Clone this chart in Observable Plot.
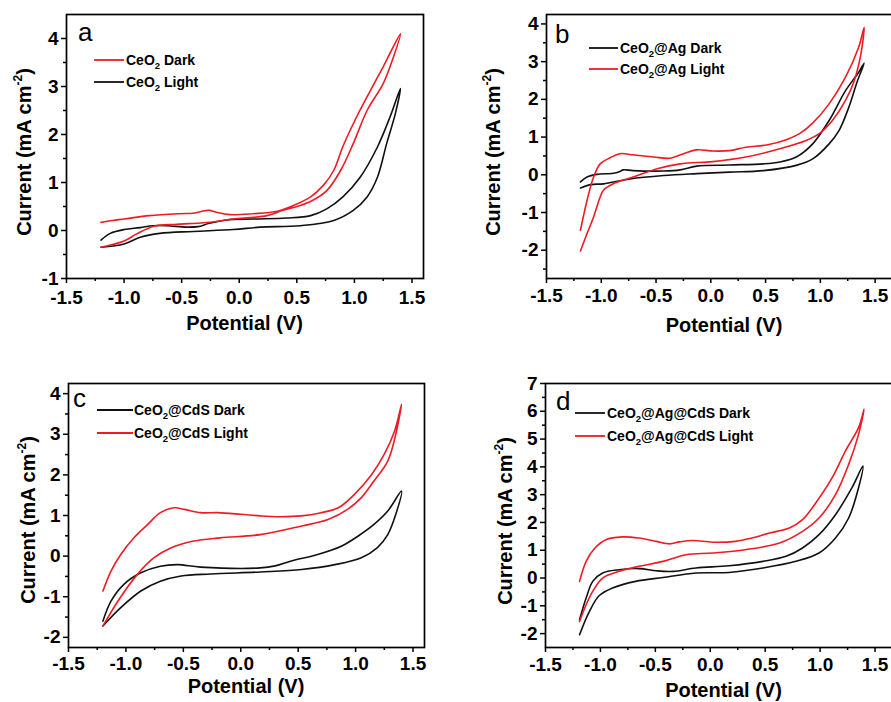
<!DOCTYPE html>
<html><head><meta charset="utf-8">
<script src="https://cdn.jsdelivr.net/npm/d3@7"></script>
<script src="https://cdn.jsdelivr.net/npm/@observablehq/plot@0.6"></script>
<style>
html,body{margin:0;padding:0;background:#fff;overflow:hidden;}
#wrap{position:relative;width:891px;height:702px;overflow:hidden;}
.panel{position:absolute;}
.panel svg{max-width:none !important;display:block;}
</style></head><body><div id="wrap"></div>
<script>
// ---- tick values ----
const xMajor = [-1.5, -1.0, -0.5, 0.0, 0.5, 1.0, 1.5];
const xMinor = [-1.25, -0.75, -0.25, 0.25, 0.75, 1.25];
const yMajorA = [-1, 0, 1, 2, 3, 4];
const yMinorA = [-0.5, 0.5, 1.5, 2.5, 3.5];
const yMajorB = [-2, -1, 0, 1, 2, 3, 4];
const yMinorB = [-2.5, -1.5, -0.5, 0.5, 1.5, 2.5, 3.5];
const yMajorC = [-2, -1, 0, 1, 2, 3, 4];
const yMinorC = [-1.5, -0.5, 0.5, 1.5, 2.5, 3.5];
const yMajorD = [-2, -1, 0, 1, 2, 3, 4, 5, 6, 7];
const yMinorD = [-1.5, -0.5, 0.5, 1.5, 2.5, 3.5, 4.5, 5.5, 6.5];

// ---- text ----
const panelLetters = ["a", "b", "c", "d"];
const legendA = ["CeO₂ Dark", "CeO₂ Light"];
const legendB = ["CeO₂@Ag Dark", "CeO₂@Ag Light"];
const legendC = ["CeO₂@CdS Dark", "CeO₂@CdS Light"];
const legendD = ["CeO₂@Ag@CdS Dark", "CeO₂@Ag@CdS Light"];
const xTitle = "Potential (V)";
const yTitle = ["Current (mA cm", "-2", ")"];

// ---- data: [potential V, current mA cm-2] ----
const aDark = [[-1.2,0.17],[-1.1,0.21],[-1.0,0.24],[-0.78,0.31],[-0.52,0.35],[-0.4,0.36],[-0.3,0.41],[-0.26,0.42],[-0.2,0.38],[-0.08,0.33],[0.12,0.35],[0.33,0.40],[0.47,0.52],[0.62,0.70],[0.73,0.94],[0.82,1.25],[0.9,1.75],[1.02,2.37],[1.14,2.92],[1.25,3.41],[1.4,4.1],
  [1.33,3.55],[1.25,3.06],[1.11,2.5],[0.99,1.81],[0.88,1.25],[0.76,0.83],[0.64,0.63],[0.53,0.52],[0.38,0.42],[0.24,0.31],[-0.05,0.24],[-0.14,0.21],[-0.31,0.16],[-0.54,0.13],[-0.74,0.09],[-0.89,-0.07],[-1.0,-0.22],[-1.2,-0.35]];
const aLight = [[-1.2,-0.2],[-1.12,-0.06],[-1.0,0.02],[-0.86,0.06],[-0.75,0.10],[-0.63,0.10],[-0.46,0.07],[-0.36,0.08],[-0.26,0.15],[-0.11,0.22],[0.12,0.24],[0.41,0.26],[0.62,0.31],[0.76,0.45],[0.9,0.70],[1.05,1.11],[1.2,1.74],[1.31,2.37],[1.4,2.96],
  [1.355,2.43],[1.28,1.81],[1.2,1.11],[1.11,0.70],[0.99,0.42],[0.82,0.21],[0.53,0.10],[0.18,0.07],[-0.05,0.02],[-0.4,-0.02],[-0.69,-0.06],[-0.86,-0.14],[-1.0,-0.28],[-1.2,-0.35]];

const bDark = [[-1.19,-0.19],[-1.13,-0.06],[-1.04,0.01],[-0.89,0.04],[-0.83,0.09],[-0.8,0.13],[-0.71,0.11],[-0.43,0.10],[-0.28,0.13],[-0.13,0.23],[0.17,0.26],[0.48,0.29],[0.63,0.34],[0.78,0.47],[0.93,0.82],[1.08,1.44],[1.23,2.23],[1.35,2.72],[1.4,2.96],
  [1.34,2.5],[1.26,1.79],[1.17,1.17],[1.08,0.82],[0.93,0.42],[0.78,0.25],[0.48,0.11],[0.17,0.07],[-0.13,0.03],[-0.43,-0.02],[-0.74,-0.11],[-0.98,-0.24],[-1.1,-0.26],[-1.19,-0.35]];
const bLight = [[-1.19,-1.47],[-1.13,-0.68],[-1.07,-0.06],[-1.01,0.29],[-0.92,0.45],[-0.83,0.56],[-0.71,0.53],[-0.52,0.47],[-0.37,0.44],[-0.25,0.56],[-0.13,0.66],[0.02,0.63],[0.17,0.64],[0.32,0.73],[0.51,0.79],[0.69,0.93],[0.81,1.09],[0.93,1.37],[1.08,1.88],[1.23,2.59],[1.35,3.38],[1.4,3.91],
  [1.37,3.2],[1.31,2.5],[1.23,1.97],[1.11,1.44],[0.99,1.09],[0.87,0.91],[0.63,0.69],[0.32,0.47],[0.02,0.35],[-0.28,0.29],[-0.49,0.16],[-0.71,-0.06],[-0.89,-0.24],[-0.98,-0.41],[-1.01,-0.59],[-1.07,-1.12],[-1.13,-1.56],[-1.19,-2.02]];

const cDark = [[-1.2,-1.6],[-1.13,-1.11],[-1.02,-0.70],[-0.87,-0.41],[-0.70,-0.25],[-0.55,-0.21],[-0.35,-0.27],[0.17,-0.29],[0.30,-0.24],[0.44,-0.12],[0.67,0.04],[0.88,0.25],[1.02,0.49],[1.16,0.78],[1.28,1.11],[1.4,1.60],
  [1.35,1.03],[1.28,0.53],[1.19,0.21],[1.05,-0.04],[0.82,-0.21],[0.53,-0.33],[0.17,-0.39],[-0.26,-0.44],[-0.52,-0.49],[-0.70,-0.62],[-0.87,-0.86],[-1.045,-1.27],[-1.2,-1.72]];
const cLight = [[-1.2,-0.86],[-1.13,-0.37],[-1.045,0.04],[-0.93,0.45],[-0.81,0.78],[-0.70,1.07],[-0.58,1.19],[-0.49,1.15],[-0.35,1.07],[-0.2,1.07],[0.0,1.03],[0.17,0.99],[0.33,0.97],[0.53,0.99],[0.7,1.07],[0.85,1.19],[0.99,1.52],[1.14,2.01],[1.25,2.51],[1.34,3.08],[1.4,3.74],
  [1.35,3.0],[1.28,2.34],[1.16,1.85],[1.05,1.44],[0.93,1.15],[0.76,0.90],[0.53,0.74],[0.17,0.53],[-0.18,0.45],[-0.41,0.37],[-0.61,0.20],[-0.755,-0.04],[-0.90,-0.45],[-1.07,-1.11],[-1.2,-1.72]];

const dDark = [[-1.19,-1.50],[-1.13,-0.72],[-1.07,-0.12],[-0.98,0.18],[-0.83,0.30],[-0.65,0.34],[-0.49,0.26],[-0.34,0.24],[-0.13,0.36],[0.17,0.44],[0.48,0.60],[0.69,0.78],[0.84,1.08],[0.99,1.56],[1.14,2.28],[1.29,3.25],[1.39,4.03],
  [1.35,3.25],[1.26,2.16],[1.14,1.44],[0.99,0.90],[0.78,0.60],[0.48,0.36],[0.17,0.20],[-0.13,0.18],[-0.43,0.02],[-0.68,-0.12],[-0.89,-0.36],[-1.01,-0.63],[-1.1,-1.2],[-1.19,-2.04]];
const dLight = [[-1.19,-0.12],[-1.13,0.60],[-1.05,1.08],[-0.95,1.38],[-0.8,1.48],[-0.65,1.44],[-0.49,1.32],[-0.37,1.23],[-0.28,1.30],[-0.16,1.35],[0.02,1.29],[0.23,1.32],[0.38,1.44],[0.54,1.62],[0.72,1.80],[0.84,2.10],[0.96,2.70],[1.11,3.61],[1.23,4.57],[1.35,5.41],[1.4,6.07],
  [1.35,5.17],[1.26,4.09],[1.14,3.0],[0.99,2.16],[0.84,1.68],[0.63,1.26],[0.32,1.02],[0.02,0.90],[-0.22,0.84],[-0.43,0.60],[-0.65,0.42],[-0.83,0.24],[-0.98,0.0],[-1.07,-0.48],[-1.13,-0.96],[-1.19,-1.56]];

const RED = "#ed1c24", BLACK = "#111";
const FONT = "'Liberation Sans', Arial, Helvetica, sans-serif";

function addRich(sel, label, subSize, shift) {
  const parts = label.split("₂");
  parts.forEach((p, i) => {
    if (i > 0) {
      sel.append("tspan").attr("font-size", subSize).attr("dy", shift).text("2");
      sel.append("tspan").attr("dy", -shift).text(p);
    } else sel.append("tspan").text(p);
  });
}

function drawPanel(cfg) {
  const [mL, mR, mT, mB] = cfg.m;
  const chart = Plot.plot({
    width: cfg.w, height: cfg.h,
    marginLeft: mL, marginRight: mR, marginTop: mT, marginBottom: mB,
    x: {domain: cfg.xDomain},
    y: {domain: cfg.yDomain},
    style: {fontFamily: FONT, fontSize: "19px", fontWeight: "bold", color: "#000", background: "transparent", overflow: "visible", maxWidth: "none"},
    marks: [
      ...cfg.series.map(s => Plot.line(s.data, {x: d => d[0], y: d => d[1], stroke: s.color, strokeWidth: 1.6, curve: "catmull-rom"})),
      Plot.frame({stroke: "#000", strokeWidth: 1.7}),
      Plot.axisX({ticks: xMajor, tickSize: 5, tickPadding: cfg.xPad, tickFormat: d => d.toFixed(1), label: null, strokeWidth: 1.5}),
      Plot.axisX({ticks: xMinor, tickSize: 3, tickFormat: () => "", label: null, strokeWidth: 1.5}),
      Plot.axisY({ticks: cfg.yMajor, tickSize: 5, tickPadding: 3, tickFormat: d => String(d), label: null, strokeWidth: 1.5}),
      Plot.axisY({ticks: cfg.yMinor, tickSize: 3, tickFormat: () => "", label: null, strokeWidth: 1.5})
    ]
  });
  const svg = d3.select(chart);
  // panel letter
  svg.append("text").attr("x", cfg.letter[0]).attr("y", cfg.letter[1]).attr("text-anchor", "start")
    .attr("font-family", FONT).attr("font-size", 26).attr("font-weight", "normal").attr("fill", "#000")
    .text(cfg.letterText);
  // legend
  cfg.legend.forEach((lab, i) => {
    const y = cfg.legRows[i];
    svg.append("line").attr("x1", cfg.legX[0]).attr("x2", cfg.legX[1]).attr("y1", y).attr("y2", y)
      .attr("stroke", cfg.legColors[i]).attr("stroke-width", 1.8);
    const t = svg.append("text").attr("x", cfg.legX[2]).attr("y", y + 5).attr("text-anchor", "start")
      .attr("font-family", FONT).attr("font-size", 14).attr("font-weight", "bold").attr("fill", "#000");
    addRich(t, lab, 9.5, 4);
  });
  // x title
  svg.append("text").attr("x", (mL + cfg.w - mR) / 2).attr("y", cfg.xTitleY)
    .attr("text-anchor", "middle").attr("font-family", FONT).attr("font-size", 20).attr("font-weight", "bold")
    .text(xTitle);
  // y title
  const yt = svg.append("text").attr("transform", `translate(${cfg.yTitle[0]},${cfg.yTitle[1]}) rotate(-90)`)
    .attr("text-anchor", "middle").attr("font-family", FONT).attr("font-size", 20).attr("font-weight", "bold");
  yt.append("tspan").text(yTitle[0]);
  yt.append("tspan").attr("font-size", 12).attr("dy", -9).text(yTitle[1]);
  yt.append("tspan").attr("dy", 9).text(yTitle[2]);

  const div = document.createElement("div");
  div.className = "panel";
  div.style.left = cfg.left + "px";
  div.style.top = cfg.top + "px";
  div.style.width = cfg.w + "px";
  div.style.height = cfg.h + "px";
  div.appendChild(chart);
  document.getElementById("wrap").appendChild(div);
}

drawPanel({left: 0, top: 0, w: 445, h: 350, m: [66, 22, 14, 72], xDomain: [-1.5, 1.6], yDomain: [-1, 4.5],
  yMajor: yMajorA, yMinor: yMinorA, xPad: 7,
  series: [{data: aLight, color: BLACK}, {data: aDark, color: RED}],
  letterText: panelLetters[0], letter: [78, 41],
  legend: legendA, legColors: [RED, BLACK], legX: [94, 124, 126], legRows: [60, 82],
  xTitleY: 330, yTitle: [31, 152]});

drawPanel({left: 445, top: 0, w: 470, h: 350, m: [101, 13, 14, 72], xDomain: [-1.5, 1.75], yDomain: [-2.75, 4.25],
  yMajor: yMajorB, yMinor: yMinorB, xPad: 5,
  series: [{data: bDark, color: BLACK}, {data: bLight, color: RED}],
  letterText: panelLetters[1], letter: [110, 43],
  legend: legendB, legColors: [BLACK, RED], legX: [144, 173, 175], legRows: [48, 69],
  xTitleY: 332, yTitle: [55, 152]});

drawPanel({left: 0, top: 350, w: 445, h: 352, m: [68, 21, 33, 55], xDomain: [-1.5, 1.6], yDomain: [-2.25, 4.25],
  yMajor: yMajorC, yMinor: yMinorC, xPad: 4,
  series: [{data: cDark, color: BLACK}, {data: cLight, color: RED}],
  letterText: panelLetters[2], letter: [73, 57],
  legend: legendC, legColors: [BLACK, RED], legX: [97, 133, 134], legRows: [60, 83],
  xTitleY: 343, yTitle: [35, 170]});

drawPanel({left: 445, top: 350, w: 470, h: 352, m: [100, 13, 33, 55], xDomain: [-1.5, 1.75], yDomain: [-2.5, 7],
  yMajor: yMajorD, yMinor: yMinorD, xPad: 5,
  series: [{data: dDark, color: BLACK}, {data: dLight, color: RED}],
  letterText: panelLetters[3], letter: [111, 60],
  legend: legendD, legColors: [BLACK, RED], legX: [130, 160, 162], legRows: [63, 86],
  xTitleY: 347, yTitle: [67, 171]});
</script>
</body></html>
